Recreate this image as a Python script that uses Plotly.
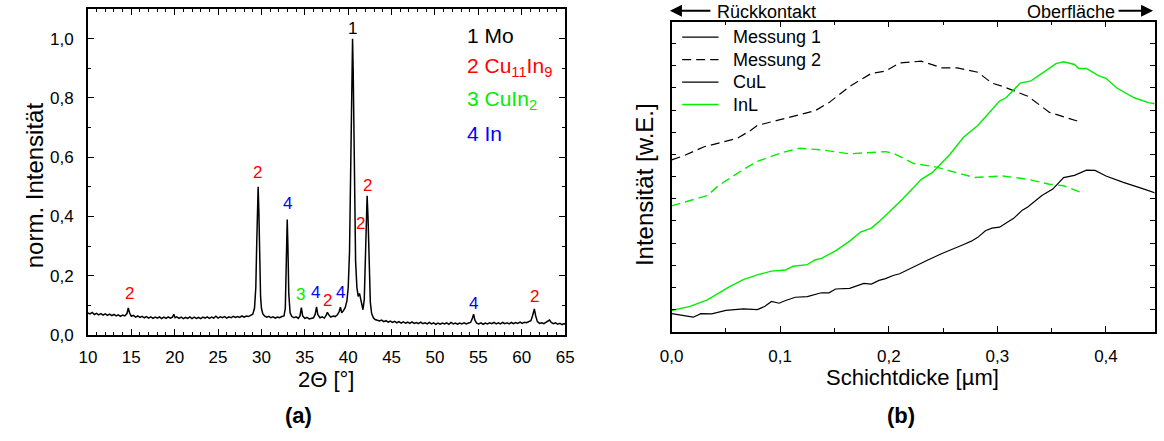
import plotly.graph_objects as go

# ---------------- DATA ----------------
# (a) XRD pattern
xrd_two_theta = [
    10.00, 10.25, 10.50, 10.75, 11.00, 11.25, 11.50, 11.75, 12.00, 12.25, 12.50, 12.75,
    13.00, 13.25, 13.50, 13.75, 14.00, 14.25, 14.50, 14.65, 14.80, 15.00, 15.25, 15.50,
    15.75, 16.00, 16.25, 16.50, 16.75, 17.00, 17.25, 17.50, 17.75, 18.00, 18.25, 18.50,
    18.75, 19.00, 19.25, 19.50, 19.75, 19.90, 20.05, 20.25, 20.50, 20.75, 21.00, 21.25,
    21.50, 21.75, 22.00, 22.25, 22.50, 22.75, 23.00, 23.25, 23.50, 23.75, 24.00, 24.25,
    24.50, 24.75, 25.00, 25.25, 25.50, 25.75, 26.00, 26.25, 26.50, 26.75, 27.00, 27.25,
    27.50, 27.75, 28.00, 28.25, 28.50, 28.75, 29.00, 29.20, 29.35, 29.45, 29.55, 29.62,
    29.70, 29.80, 29.90, 30.00, 30.15, 30.35, 30.60, 30.85, 31.10, 31.35, 31.60, 31.85,
    32.10, 32.35, 32.60, 32.75, 32.88, 32.97, 33.05, 33.15, 33.30, 33.50, 33.75, 34.00,
    34.25, 34.45, 34.60, 34.75, 35.00, 35.25, 35.50, 35.75, 36.00, 36.20, 36.35, 36.50,
    36.75, 37.00, 37.25, 37.45, 37.60, 37.80, 38.00, 38.25, 38.50, 38.75, 38.95, 39.10,
    39.25, 39.45, 39.65, 39.85, 40.00, 40.15, 40.30, 40.42, 40.50, 40.58, 40.70, 40.85,
    41.00, 41.15, 41.30, 41.40, 41.55, 41.70, 41.85, 41.98, 42.10, 42.18, 42.28, 42.40,
    42.55, 42.70, 42.90, 43.10, 43.35, 43.60, 43.85, 44.10, 44.35, 44.60, 44.85, 45.10,
    45.35, 45.60, 45.85, 46.10, 46.35, 46.60, 46.85, 47.10, 47.35, 47.60, 47.85, 48.10,
    48.35, 48.60, 48.85, 49.10, 49.35, 49.60, 49.85, 50.10, 50.35, 50.60, 50.85, 51.10,
    51.35, 51.60, 51.85, 52.10, 52.35, 52.60, 52.85, 53.10, 53.35, 53.60, 53.85, 54.10,
    54.30, 54.45, 54.60, 54.80, 55.05, 55.30, 55.55, 55.80, 56.05, 56.30, 56.55, 56.80,
    57.05, 57.30, 57.55, 57.80, 58.05, 58.30, 58.55, 58.80, 59.05, 59.30, 59.55, 59.80,
    60.05, 60.30, 60.55, 60.80, 61.05, 61.25, 61.45, 61.60, 61.80, 62.05, 62.30, 62.55,
    62.80, 63.00, 63.20, 63.40, 63.65, 63.90, 64.15, 64.40, 64.65, 64.90, 65.00,
]
xrd_intensity = [
    0.074, 0.071, 0.076, 0.069, 0.073, 0.068, 0.072, 0.067, 0.071, 0.066, 0.070, 0.065,
    0.069, 0.064, 0.068, 0.063, 0.067, 0.064, 0.072, 0.091, 0.075, 0.063, 0.066, 0.060,
    0.064, 0.059, 0.063, 0.058, 0.062, 0.057, 0.061, 0.056, 0.060, 0.057, 0.061, 0.055,
    0.060, 0.056, 0.061, 0.057, 0.060, 0.070, 0.058, 0.061, 0.056, 0.060, 0.055, 0.059,
    0.056, 0.061, 0.055, 0.060, 0.056, 0.059, 0.055, 0.060, 0.057, 0.061, 0.056, 0.060,
    0.057, 0.063, 0.057, 0.061, 0.058, 0.062, 0.057, 0.061, 0.058, 0.063, 0.059, 0.062,
    0.059, 0.064, 0.060, 0.064, 0.062, 0.066, 0.070, 0.090, 0.160, 0.300, 0.470, 0.500,
    0.420, 0.240, 0.130, 0.090, 0.072, 0.064, 0.060, 0.063, 0.058, 0.061, 0.057, 0.060,
    0.058, 0.062, 0.064, 0.090, 0.250, 0.390, 0.300, 0.140, 0.075, 0.062, 0.058, 0.061,
    0.056, 0.065, 0.092, 0.064, 0.056, 0.059, 0.054, 0.057, 0.058, 0.070, 0.095, 0.068,
    0.058, 0.061, 0.057, 0.066, 0.076, 0.066, 0.060, 0.064, 0.062, 0.068, 0.078, 0.094,
    0.075, 0.082, 0.092, 0.115, 0.160, 0.280, 0.600, 0.950, 1.000, 0.880, 0.520, 0.250,
    0.160, 0.130, 0.140, 0.128, 0.100, 0.085, 0.120, 0.250, 0.420, 0.470, 0.400, 0.220,
    0.110, 0.072, 0.058, 0.052, 0.049, 0.047, 0.050, 0.045, 0.048, 0.043, 0.047, 0.042,
    0.046, 0.041, 0.045, 0.040, 0.044, 0.040, 0.043, 0.039, 0.044, 0.039, 0.042, 0.038,
    0.043, 0.038, 0.041, 0.037, 0.042, 0.037, 0.041, 0.036, 0.040, 0.036, 0.040, 0.037,
    0.041, 0.036, 0.042, 0.037, 0.040, 0.036, 0.040, 0.037, 0.041, 0.037, 0.040, 0.042,
    0.055, 0.070, 0.050, 0.040, 0.037, 0.041, 0.036, 0.040, 0.037, 0.041, 0.038, 0.042,
    0.037, 0.041, 0.037, 0.042, 0.038, 0.041, 0.037, 0.042, 0.038, 0.042, 0.039, 0.043,
    0.039, 0.043, 0.041, 0.045, 0.048, 0.065, 0.088, 0.065, 0.045, 0.039, 0.041, 0.038,
    0.042, 0.048, 0.050, 0.042, 0.038, 0.041, 0.036, 0.039, 0.035, 0.038, 0.036,
]

# peak markers
peak_labels = ["2", "2", "4", "3", "4", "2", "4", "1", "2", "2", "4", "2"]
peak_x = [14.75, 29.6, 33.0, 34.5, 36.2, 37.65, 39.1, 40.5, 41.45, 42.25, 54.4, 61.5]
peak_y = [0.140, 0.547, 0.444, 0.135, 0.143, 0.116, 0.143, 1.033, 0.376, 0.505, 0.105, 0.131]
phase_names = ["1 Mo", "2 Cu<sub>11</sub>In<sub>9</sub>", "3 CuIn<sub>2</sub>", "4 In"]
phase_colors = {"1": "#000000", "2": "#ff0000", "3": "#00ee00", "4": "#0000ff"}

# (b) depth profiles
cul_m1_x = [0.000, 0.010, 0.020, 0.027, 0.037, 0.050, 0.066, 0.079, 0.086, 0.092, 0.099, 0.105,
            0.114, 0.125, 0.138, 0.145, 0.151, 0.164, 0.177, 0.184, 0.191, 0.197, 0.204, 0.210,
            0.223, 0.236, 0.249, 0.259, 0.269, 0.276, 0.282, 0.289, 0.295, 0.302, 0.308, 0.315,
            0.323, 0.328, 0.341, 0.351, 0.361, 0.371, 0.382, 0.390, 0.400, 0.416, 0.433, 0.448]
cul_m1_y = [0.82, 0.74, 0.66, 0.82, 0.81, 0.97, 1.03, 1.00, 1.15, 1.37, 1.29, 1.41,
            1.56, 1.59, 1.76, 1.76, 1.93, 1.96, 2.18, 2.15, 2.32, 2.40, 2.54, 2.62,
            2.94, 3.24, 3.53, 3.72, 3.94, 4.09, 4.26, 4.56, 4.68, 4.72, 4.90, 5.12,
            5.49, 5.63, 6.15, 6.44, 6.96, 7.06, 7.29, 7.28, 7.03, 6.74, 6.47, 6.22]

cul_m2_x = [0.000, 0.011, 0.030, 0.060, 0.073, 0.079, 0.099, 0.132, 0.145, 0.164, 0.184, 0.197,
            0.210, 0.230, 0.249, 0.263, 0.282, 0.295, 0.305, 0.328, 0.348, 0.361, 0.377]
cul_m2_y = [7.76, 7.94, 8.35, 8.72, 9.09, 9.31, 9.56, 9.97, 10.34, 11.07, 11.66, 11.76,
            12.13, 12.21, 11.91, 11.91, 11.71, 11.22, 11.07, 10.63, 9.90, 9.71, 9.46]

inl_m1_x = [0.000, 0.017, 0.033, 0.053, 0.066, 0.079, 0.092, 0.105, 0.112, 0.125, 0.132, 0.138,
            0.151, 0.164, 0.174, 0.184, 0.191, 0.204, 0.213, 0.230, 0.240, 0.256, 0.269, 0.282,
            0.302, 0.308, 0.321, 0.331, 0.344, 0.354, 0.361, 0.371, 0.375, 0.382, 0.393, 0.400,
            0.410, 0.426, 0.439, 0.448]
inl_m1_y = [0.96, 1.15, 1.44, 2.03, 2.35, 2.57, 2.74, 2.79, 2.96, 3.03, 3.24, 3.31,
            3.65, 4.09, 4.50, 4.68, 4.97, 5.56, 6.00, 6.88, 7.18, 7.99, 8.79, 9.31,
            10.41, 10.56, 11.22, 11.32, 11.74, 12.10, 12.18, 12.06, 11.88, 11.88, 11.56, 11.44,
            11.00, 10.56, 10.34, 10.26]

inl_m2_x = [0.000, 0.033, 0.043, 0.066, 0.079, 0.102, 0.118, 0.138, 0.164, 0.197, 0.204, 0.223,
            0.243, 0.263, 0.279, 0.305, 0.328, 0.348, 0.361, 0.377]
inl_m2_y = [5.68, 6.15, 6.59, 7.32, 7.69, 8.09, 8.28, 8.21, 8.03, 8.13, 8.06, 7.59,
            7.44, 7.18, 6.96, 7.03, 6.88, 6.66, 6.59, 6.29]

legend_names = ["Messung 1", "Messung 2", "CuL", "InL"]

# ---------------- LAYOUT HELPERS ----------------
W, H = 1164, 441
FONT = "Liberation Sans, Arial, sans-serif"
GREEN = "#00ee00"
DASH = "9px,5px"


def px(x):
    return x / W


def py(y):
    return 1 - y / H


fig = go.Figure()

# (a)
fig.add_trace(go.Scatter(x=xrd_two_theta, y=xrd_intensity, mode="lines",
                         line=dict(color="black", width=1.5), showlegend=False,
                         xaxis="x", yaxis="y"))

# (b)
fig.add_trace(go.Scatter(x=cul_m1_x, y=cul_m1_y, mode="lines", line=dict(color="black", width=1.2),
                         showlegend=False, xaxis="x2", yaxis="y2"))
fig.add_trace(go.Scatter(x=cul_m2_x, y=cul_m2_y, mode="lines",
                         line=dict(color="black", width=1.2, dash=DASH),
                         showlegend=False, xaxis="x2", yaxis="y2"))
fig.add_trace(go.Scatter(x=inl_m1_x, y=inl_m1_y, mode="lines", line=dict(color=GREEN, width=1.4),
                         showlegend=False, xaxis="x2", yaxis="y2"))
fig.add_trace(go.Scatter(x=inl_m2_x, y=inl_m2_y, mode="lines",
                         line=dict(color=GREEN, width=1.4, dash=DASH),
                         showlegend=False, xaxis="x2", yaxis="y2"))

axis_common = dict(showline=True, linecolor="black", linewidth=1.5, mirror="allticks",
                   ticks="inside", tickcolor="black", tickwidth=1.3, showgrid=False,
                   zeroline=False, tickfont=dict(family=FONT, size=17, color="black"))

fig.update_layout(
    width=W, height=H, margin=dict(l=0, r=0, t=0, b=0),
    paper_bgcolor="white", plot_bgcolor="white",
    separators=",.", showlegend=False,
    font=dict(family=FONT, color="black"),
    xaxis=dict(domain=[px(77.3), px(563.3)], range=[10, 65], dtick=5, tick0=10, ticklen=6,
               minor=dict(dtick=1, ticks="inside", ticklen=3.5, tickcolor="black", tickwidth=1.2),
               anchor="y", ticklabelstandoff=6, **axis_common),
    yaxis=dict(domain=[py(342.7), py(9.3)], range=[0, 1.1], dtick=0.2, tick0=0, tickformat=".1f",
               ticklen=6, minor=dict(dtick=0.1, ticks="inside", ticklen=3.5, tickcolor="black",
                                     tickwidth=1.2),
               anchor="x", ticklabelstandoff=9, **axis_common),
    xaxis2=dict(domain=[px(671.7), px(1163.5)], range=[0, 0.4447], dtick=0.1, tick0=0,
                tickformat=".1f", ticklen=6,
                minor=dict(dtick=0.05, ticks="inside", ticklen=4, tickcolor="black", tickwidth=1.2),
                anchor="y2", ticklabelstandoff=8, **axis_common),
    yaxis2=dict(domain=[py(339.5), py(22)], range=[0, 14], dtick=1, tick0=0, ticklen=5,
                showticklabels=False, anchor="x2", **axis_common),
)


def note(x, y, text, size, color="black", xanchor="center", angle=0):
    return dict(x=px(x), y=py(y), xref="paper", yref="paper", text=text, showarrow=False,
                xanchor=xanchor, yanchor="middle", textangle=angle,
                font=dict(family=FONT, size=size, color=color))


annotations = []
# peak labels (a)
for lab, xv, yv in zip(peak_labels, peak_x, peak_y):
    annotations.append(dict(x=xv, y=yv, xref="x", yref="y", text=lab, showarrow=False,
                            xanchor="center", yanchor="middle",
                            font=dict(family=FONT, size=17, color=phase_colors[lab])))
# phase legend (a)
for i, (name, yy) in enumerate(zip(phase_names, [36, 69, 102, 137])):
    annotations.append(note(461, yy, name, 21, phase_colors[str(i + 1)], xanchor="left"))

# legend (b), drawn by hand
legend_rows = [38, 61, 84, 107]
legend_styles = [dict(color="black", width=1.2), dict(color="black", width=1.2, dash=DASH),
                 dict(color="black", width=1.2), dict(color=GREEN, width=1.4)]
shapes = []
for name, yy, st in zip(legend_names, legend_rows, legend_styles):
    shapes.append(dict(type="line", xref="paper", yref="paper", x0=px(682.5), x1=px(719.5),
                       y0=py(yy), y1=py(yy), line=st))
    annotations.append(note(732, yy, name, 18, xanchor="left"))

# axis titles etc.
annotations += [
    note(23, 190, "norm. Intensität", 24, angle=-90),
    note(320, 388, "2Θ [°]", 22),
    note(292, 425, "<b>(a)</b>", 22),
    note(644, 189, "Intensität [w.E.]", 24, angle=-90),
    note(917, 386, "Schichtdicke [µm]", 22),
    note(905, 425, "<b>(b)</b>", 22),
    note(716, 12, "Rückkontakt", 18, xanchor="left"),
    note(1125, 12, "Oberfläche", 18, xanchor="right"),
    dict(x=px(670), y=py(11), xref="paper", yref="paper", text="", showarrow=True,
         ax=42, ay=0, arrowhead=2, arrowsize=1.2, arrowwidth=2, arrowcolor="black"),
    dict(x=px(1162), y=py(11), xref="paper", yref="paper", text="", showarrow=True,
         ax=-36, ay=0, arrowhead=2, arrowsize=1.2, arrowwidth=2, arrowcolor="black"),
]
fig.update_layout(annotations=annotations, shapes=shapes)

fig.write_html("out.html", config={"displayModeBar": False},
               post_script="document.body.style.margin='0px';")
